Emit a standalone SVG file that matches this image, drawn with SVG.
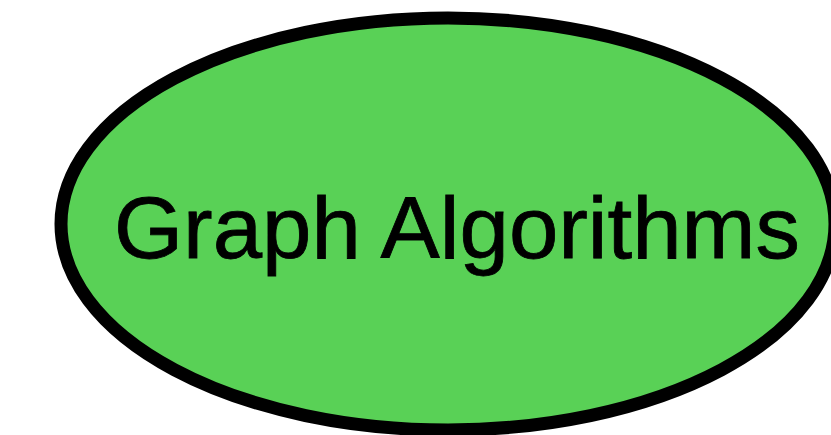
<svg xmlns="http://www.w3.org/2000/svg" width="831" height="435" viewBox="0 0 831 435">
<style>
.node{fill:#59D156;stroke:#000;stroke-width:13}
.label{font-family:"Liberation Sans",Arial,sans-serif;font-size:87px;fill:#000;stroke:#000;stroke-width:0.8}
</style>
<rect width="831" height="435" fill="#fff"/>
<g id="connectors"></g>
<g id="graph-algorithms">
<ellipse class="node" cx="448" cy="224" rx="387" ry="206"/>
<text class="label" x="457" y="258" text-anchor="middle" textLength="686" lengthAdjust="spacingAndGlyphs">Graph Algorithms</text>
</g>
</svg>
